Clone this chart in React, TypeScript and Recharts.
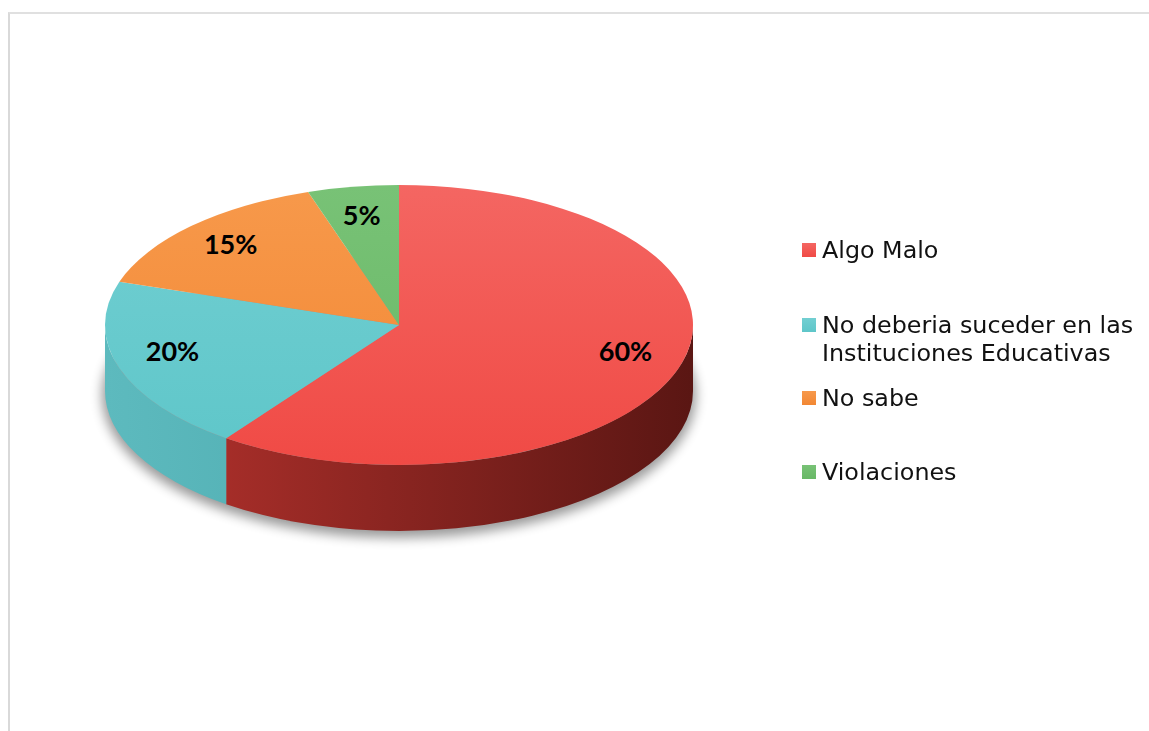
import React from "react";
import { PieChart, Pie, Cell, Legend } from "recharts";

const categories = [
  "Algo Malo",
  "No deberia suceder en las Instituciones Educativas",
  "No sabe",
  "Violaciones",
];
const shares = [60, 20, 15, 5];
const topColors = ["#F04A45", "#5EC6C9", "#F28733", "#68B866"];
const topLight = ["#F46662", "#72CFD2", "#F7994B", "#78C276"];
const sideDark = ["#5A1613", "#3F9DA2", "#C46A22", "#4F9A4E"];
const sideLight = ["#B8332E", "#5DBABE", "#E07F2E", "#62AE61"];

const data = categories.map((name, i) => ({ name, value: shares[i] }));

const SQUASH = 0.476;
const DEPTH = 66;
const RAD = Math.PI / 180;

function pt(cx: number, cy: number, rx: number, ry: number, a: number) {
  return [cx + rx * Math.cos(a * RAD), cy - ry * Math.sin(a * RAD)];
}

function Slice3D(props: any) {
  const { cx, cy, outerRadius, startAngle, endAngle, payload } = props;
  const i = categories.indexOf(payload?.name ?? props.name);
  const rx = outerRadius;
  const ry = outerRadius * SQUASH;
  const hi = Math.max(startAngle, endAngle);
  const lo = Math.min(startAngle, endAngle);
  const [x1, y1] = pt(cx, cy, rx, ry, hi);
  const [x2, y2] = pt(cx, cy, rx, ry, lo);
  const large = hi - lo > 180 ? 1 : 0;
  const top = `M${cx},${cy} L${x1},${y1} A${rx},${ry} 0 ${large} 1 ${x2},${y2} Z`;

  // front wall: parts of the arc in the lower half of the ellipse
  const sides: string[] = [];
  for (const k of [-1, 0, 1]) {
    const a = Math.min(hi, 360 * k);
    const b = Math.max(lo, -180 + 360 * k);
    if (a > b) {
      const [ax, ay] = pt(cx, cy, rx, ry, a);
      const [bx, by] = pt(cx, cy, rx, ry, b);
      sides.push(
        `M${ax},${ay} A${rx},${ry} 0 0 1 ${bx},${by} L${bx},${by + DEPTH} A${rx},${ry} 0 0 0 ${ax},${ay + DEPTH} Z`
      );
    }
  }

  return (
    <g>
      <defs>
        <linearGradient id={`side${i}`} gradientUnits="userSpaceOnUse" x1={cx - rx} y1={0} x2={cx + rx} y2={0}>
          <stop offset="0%" stopColor={sideLight[i]} />
          <stop offset="100%" stopColor={sideDark[i]} />
        </linearGradient>
        <linearGradient id={`top${i}`} gradientUnits="userSpaceOnUse" x1={0} y1={cy - ry} x2={0} y2={cy + ry}>
          <stop offset="0%" stopColor={topLight[i]} />
          <stop offset="100%" stopColor={topColors[i]} />
        </linearGradient>
        <filter id="pieShadow" x="-20%" y="-50%" width="140%" height="200%">
          <feGaussianBlur stdDeviation="6" />
        </filter>
      </defs>
      {i === 0 && (
        <ellipse
          cx={cx}
          cy={cy + DEPTH + 4}
          rx={rx + 3}
          ry={ry + 3}
          fill="#000"
          opacity={0.4}
          filter="url(#pieShadow)"
        />
      )}
      {sides.map((d, k) => (
        <path key={k} d={d} fill={`url(#side${i})`} />
      ))}
      <path d={top} fill={`url(#top${i})`} />
    </g>
  );
}

function renderLabel(props: any) {
  const { cx, cy, midAngle, outerRadius, percent } = props;
  const [x, y] = pt(cx, cy - 7, outerRadius * 0.81, outerRadius * SQUASH * 0.75, midAngle);
  return (
    <text
      x={x}
      y={y}
      textAnchor="middle"
      dominantBaseline="central"
      fill="#000"
      style={{ fontFamily: "Lato, sans-serif", fontWeight: 700, fontSize: 27 }}
    >
      {`${Math.round(percent * 100)}%`}
    </text>
  );
}

const legendGaps = [0, 47, 17, 46];

function LegendBox() {
  return (
    <div style={{ fontFamily: "'DejaVu Sans', Verdana, sans-serif", fontSize: 23.8, color: "#111" }}>
      {categories.map((c, i) => (
        <div key={c} style={{ display: "flex", alignItems: "flex-start", marginTop: legendGaps[i] }}>
          <div
            style={{
              width: 14,
              height: 14,
              marginTop: 7,
              marginRight: 6,
              flexShrink: 0,
              background: `linear-gradient(${topLight[i]}, ${topColors[i]})`,
            }}
          />
          <div style={{ lineHeight: "28px", width: 330 }}>{c}</div>
        </div>
      ))}
    </div>
  );
}

export default function App() {
  return (
    <div
      style={{
        position: "fixed",
        left: 8,
        top: 12,
        width: 1141,
        height: 719,
        borderTop: "2px solid #E0E0E0",
        borderLeft: "2px solid #D9D9D9",
        background: "#fff",
      }}
    >
      <PieChart width={1139} height={717}>
        <Pie
          data={data}
          dataKey="value"
          nameKey="name"
          cx={384}
          cy={306}
          outerRadius={294}
          startAngle={90}
          endAngle={-270}
          stroke="none"
          shape={Slice3D}
          label={renderLabel}
          labelLine={false}
          isAnimationActive={false}
        >
          {data.map((d, i) => (
            <Cell key={d.name} fill={topColors[i]} />
          ))}
        </Pie>
        <Legend
          layout="vertical"
          content={() => <LegendBox />}
          wrapperStyle={{ position: "absolute", left: 792, top: 222, width: 350 }}
        />
      </PieChart>
    </div>
  );
}
